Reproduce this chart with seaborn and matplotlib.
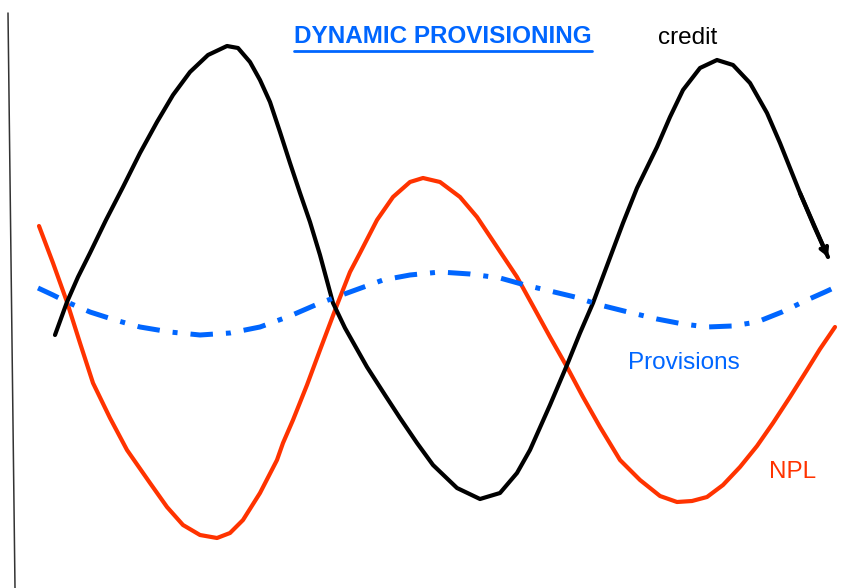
import numpy as np
import pandas as pd
import matplotlib.pyplot as plt
import seaborn as sns

# valores (x = tempo, y = posição vertical em pixels, 0 no topo)
credit_x = [55, 67, 78, 90, 106, 123, 140, 157, 173, 190, 208, 227, 238, 250, 260, 270, 280,
            290, 300, 310, 320, 333, 345, 367, 385, 400, 417, 433, 457, 480, 500, 517, 530, 550,
            567, 580, 593, 608, 623, 637, 657, 670, 683, 700, 717, 733, 750, 767, 780, 790, 800,
            814, 828]
credit_y = [335, 302, 277, 253, 220, 187, 153, 122, 95, 72, 55, 46, 48, 62, 80, 102, 132,
            163, 193, 222, 255, 303, 328, 367, 395, 418, 443, 465, 488, 499, 493, 473, 450, 405,
            365, 333, 303, 263, 223, 188, 147, 117, 90, 68, 60, 65, 83, 113, 143, 168, 193,
            226, 257]

npl_x = [39, 53, 67, 80, 93, 110, 127, 150, 167, 183, 200, 217, 230, 243, 260, 277, 283, 293,
         307, 320, 337, 350, 360, 377, 393, 410, 423, 440, 460, 477, 497, 517, 533, 550,
         567, 583, 600, 620, 640, 660, 677, 692, 707, 723, 740, 757, 773, 790, 807, 820, 835]
npl_y = [226, 263, 302, 343, 383, 418, 450, 483, 507, 525, 535, 538, 533, 520, 493, 460, 443, 420,
         385, 350, 305, 272, 253, 220, 197, 182, 178, 182, 197, 217, 247, 277, 306, 337,
         367, 397, 427, 460, 480, 496, 502, 501, 497, 485, 467, 446, 423, 397, 370, 349, 327]

prov_x = [38, 53, 67, 90, 115, 140, 170, 200, 230, 260, 290, 320, 350, 383, 410, 440, 470, 500,
          525, 550, 575, 600, 628, 657, 683, 707, 732, 757, 782, 807, 825, 840]
prov_y = [288, 295, 302, 312, 320, 327, 332, 335, 333, 327, 316, 303, 292, 280, 275, 272, 274, 278,
          285, 291, 297, 305, 312, 319, 324, 327, 326, 322, 312, 300, 292, 285]

eixo_x = [8, 15]
eixo_y = [13, 588]

H = 588
AZUL = "#0066ff"
VERMELHO = "#ff3300"

df_credit = pd.DataFrame({"t": credit_x, "v": [H - y for y in credit_y]})
df_npl = pd.DataFrame({"t": npl_x, "v": [H - y for y in npl_y]})
df_prov = pd.DataFrame({"t": prov_x, "v": [H - y for y in prov_y]})

sns.set_style("white")
plt.rcParams['font.family'] = ['Liberation Sans', 'DejaVu Sans']

fig = plt.figure(figsize=(8.41, 5.88), dpi=100)
ax = fig.add_axes([0, 0, 1, 1])

sns.lineplot(data=df_npl, x="t", y="v", sort=False, estimator=None, color=VERMELHO,
             linewidth=3.0, ax=ax, solid_joinstyle="round")
sns.lineplot(data=df_credit, x="t", y="v", sort=False, estimator=None, color="black",
             linewidth=3.0, ax=ax, solid_joinstyle="round")
sns.lineplot(data=df_prov, x="t", y="v", sort=False, estimator=None, color=AZUL,
             linewidth=3.6, ax=ax, linestyle=(0, (4.5, 2.6, 1.0, 2.6)))

# ponta da seta no fim do crédito
ax.annotate("", xy=(df_credit.t.iloc[-1], df_credit.v.iloc[-1]),
            xytext=(df_credit.t.iloc[-3], df_credit.v.iloc[-3]),
            arrowprops=dict(arrowstyle="->,head_length=0.45,head_width=0.25",
                            color="black", lw=3, shrinkA=0, shrinkB=0))

# eixo vertical desenhado à mão
ax.plot(eixo_x, [H - y for y in eixo_y], color="#333333", linewidth=1.1)

ax.set_xlim(0, 841)
ax.set_ylim(0, H)
ax.axis("off")

titulo = ax.text(0.527, 0.938, "DYNAMIC PROVISIONING", transform=ax.transAxes, ha="center",
                 va="center", color=AZUL, fontsize=17.5, fontweight="bold")
fig.canvas.draw()
bb = titulo.get_window_extent().transformed(ax.transAxes.inverted())
ax.plot([bb.x0, bb.x1], [bb.y0 - 0.006, bb.y0 - 0.006], transform=ax.transAxes,
        color=AZUL, linewidth=2)

ax.text(0.818, 0.935, "credit", transform=ax.transAxes, ha="center", va="center",
        color="black", fontsize=17.5)
ax.text(0.813, 0.383, "Provisions", transform=ax.transAxes, ha="center", va="center",
        color=AZUL, fontsize=17.5)
ax.text(0.942, 0.197, "NPL", transform=ax.transAxes, ha="center", va="center",
        color=VERMELHO, fontsize=17.5)

plt.savefig("out.png", dpi=100)
plt.close()
